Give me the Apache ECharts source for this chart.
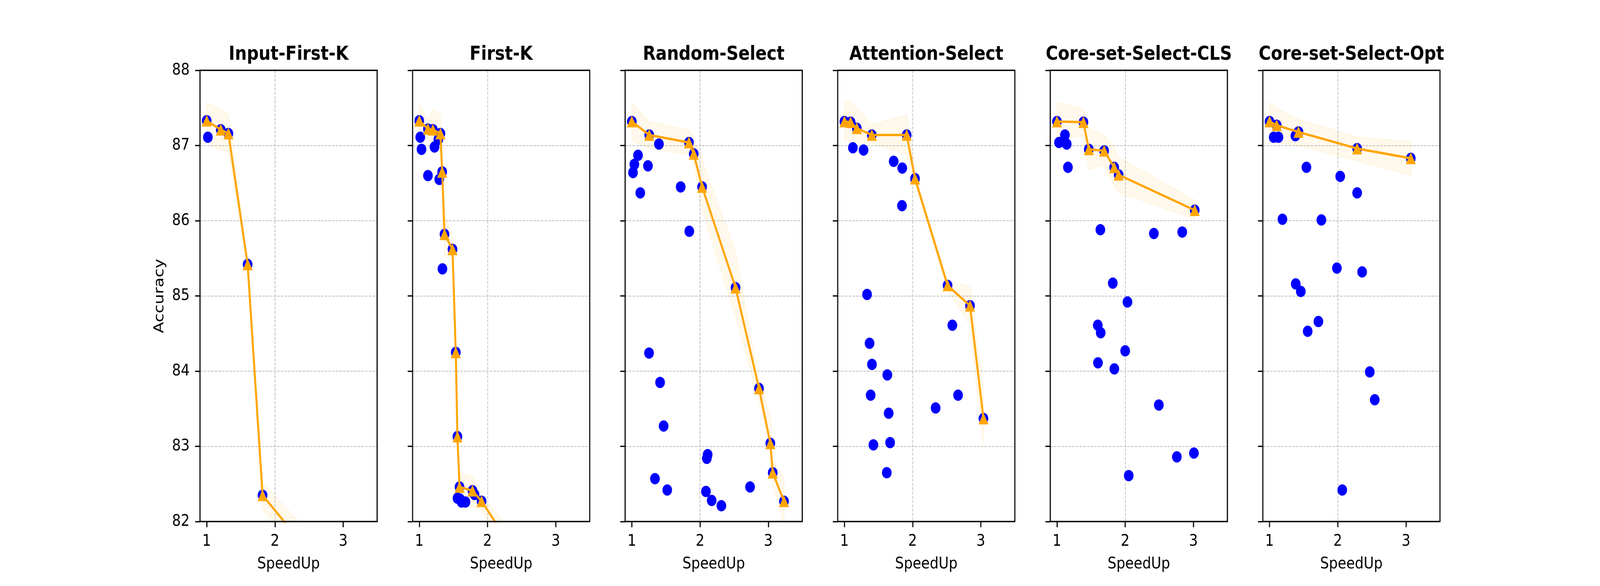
<!DOCTYPE html>
<html>
<head>
<meta charset="utf-8">
<script src="https://cdn.jsdelivr.net/npm/echarts@6/dist/echarts.min.js"></script>
<style>
  html, body { margin: 0; padding: 0; background: #fff; overflow: hidden; }
  #main { width: 4800px; height: 1500px; transform-origin: 0 0; }
</style>
</head>
<body>
<div id="main"></div>
<script>
// panel titles
var titles = ['Input-First-K', 'First-K', 'Random-Select', 'Attention-Select', 'Core-set-Select-CLS', 'Core-set-Select-Opt'];
var xTicks = [1, 2, 3];

// Input-First-K
var frontIFK = [[1.0, 87.33], [1.206, 87.21], [1.318, 87.16], [1.60, 85.42], [1.819, 82.35], [2.45, 81.65]];
var bandIFK = [[87.04, 87.57], [86.94, 87.47], [86.92, 87.41], [85.38, 85.46], [82.17, 82.51], [81.40, 81.90]];
var otherIFK = [[1.017, 87.11]];

// First-K
var frontFK = [[1.0, 87.33], [1.127, 87.22], [1.20, 87.21], [1.31, 87.16], [1.336, 86.65], [1.37, 85.82], [1.487, 85.62],
  [1.535, 84.25], [1.559, 83.13], [1.59, 82.46], [1.78, 82.41], [1.913, 82.27], [2.4, 81.6]];
var bandFK = [[87.08, 87.55], [87.08, 87.34], [87.05, 87.48], [87.02, 87.41], [86.55, 86.75], [85.53, 86.10], [85.50, 85.78],
  [84.20, 84.30], [83.08, 83.18], [82.30, 82.65], [82.20, 82.60], [82.15, 82.35], [81.40, 81.80]];
var otherFK = [[1.015, 87.11], [1.033, 86.95], [1.28, 87.08], [1.223, 86.98], [1.127, 86.60], [1.293, 86.55], [1.34, 85.36],
  [1.56, 82.31], [1.62, 82.26], [1.677, 82.26], [1.595, 82.30], [1.81, 82.36], [1.66, 81.97], [1.76, 81.97]];

// Random-Select
var frontRS = [[1.0, 87.32], [1.255, 87.14], [1.837, 87.04], [1.907, 86.89], [2.03, 86.45], [2.52, 85.11], [2.864, 83.77],
  [3.03, 83.04], [3.065, 82.65], [3.23, 82.27]];
var bandRS = [[87.07, 87.56], [86.96, 87.32], [86.88, 87.20], [86.76, 87.11], [86.14, 86.80], [84.73, 85.59], [83.60, 83.85],
  [82.97, 83.40], [82.50, 82.80], [81.95, 82.58]];
var otherRS = [[1.091, 86.87], [1.037, 86.75], [1.017, 86.64], [1.236, 86.73], [1.397, 87.02], [1.124, 86.37], [1.716, 86.45],
  [1.842, 85.86], [1.252, 84.24], [1.414, 83.85], [1.466, 83.27], [1.339, 82.57], [1.519, 82.42], [2.111, 82.89],
  [2.099, 82.84], [2.086, 82.40], [2.17, 82.28], [2.312, 82.21], [2.733, 82.46]];

// Attention-Select
var frontAS = [[1.0, 87.32], [1.091, 87.31], [1.182, 87.23], [1.402, 87.14], [1.913, 87.14], [2.035, 86.56], [2.512, 85.14],
  [2.841, 84.87], [3.038, 83.37]];
var bandAS = [[87.07, 87.58], [87.06, 87.59], [87.04, 87.50], [87.03, 87.27], [86.88, 87.41], [86.49, 86.64], [85.08, 85.20],
  [84.61, 85.12], [83.01, 83.71]];
var otherAS = [[1.124, 86.97], [1.281, 86.94], [1.722, 86.79], [1.848, 86.70], [1.844, 86.20], [1.332, 85.02], [2.582, 84.61],
  [1.369, 84.37], [1.404, 84.09], [1.629, 83.95], [1.385, 83.68], [2.666, 83.68], [1.649, 83.44], [2.337, 83.51],
  [1.425, 83.02], [1.67, 83.05], [1.621, 82.65], [2.512, 81.98]];

// Core-set-Select-CLS
var frontCLS = [[1.0, 87.32], [1.388, 87.31], [1.467, 86.95], [1.691, 86.93], [1.838, 86.71], [1.904, 86.61], [3.019, 86.14]];
var bandCLS = [[87.09, 87.57], [87.13, 87.49], [86.68, 87.23], [86.74, 87.13], [86.47, 86.98], [86.38, 86.84], [86.02, 86.27]];
var otherCLS = [[1.117, 87.14], [1.03, 87.04], [1.143, 87.02], [1.161, 86.71], [1.636, 85.88], [2.42, 85.83], [2.836, 85.85],
  [1.818, 85.17], [2.033, 84.92], [1.598, 84.61], [1.641, 84.51], [2.0, 84.27], [1.601, 84.11], [1.841, 84.03],
  [2.493, 83.55], [2.757, 82.86], [3.007, 82.91], [2.052, 82.61]];

// Core-set-Select-Opt
var frontOPT = [[1.0, 87.32], [1.105, 87.27], [1.424, 87.18], [2.284, 86.96], [3.07, 86.83]];
var bandOPT = [[87.05, 87.57], [87.03, 87.49], [87.00, 87.35], [86.80, 87.11], [86.60, 87.05]];
var otherOPT = [[1.061, 87.11], [1.131, 87.11], [1.379, 87.13], [1.541, 86.71], [2.036, 86.59], [2.284, 86.37], [1.189, 86.02],
  [1.76, 86.01], [1.987, 85.37], [2.357, 85.32], [1.384, 85.16], [1.458, 85.06], [1.716, 84.66], [1.559, 84.53],
  [2.469, 83.99], [2.542, 83.62], [2.066, 82.42]];

var fronts = [frontIFK, frontFK, frontRS, frontAS, frontCLS, frontOPT];
var bands = [bandIFK, bandFK, bandRS, bandAS, bandCLS, bandOPT];
var others = [otherIFK, otherFK, otherRS, otherAS, otherCLS, otherOPT];

// the figure is laid out at 4800x1500; squeeze it into the window if that is smaller
var el = document.getElementById('main');
var sx = Math.min(1, window.innerWidth / 4800), sy = Math.min(1, window.innerHeight / 1500);
el.style.transform = 'scale(' + sx + ',' + sy + ')';

var chart = echarts.init(el);

var FONT = 'DejaVu Sans';
var panelW = 531.4, gap = 106.3, left0 = 600, top0 = 180, panelH = 1155;
var grids = [], xAxes = [], yAxes = [], series = [], graphics = [];

function bandSeries(i, front, band) {
  return {
    type: 'custom', xAxisIndex: i, yAxisIndex: i, z: 1, silent: true,
    data: [front[0]],
    renderItem: function (params, api) {
      var up = front.map(function (p, k) { return api.coord([p[0], band[k][1]]); });
      var dn = front.map(function (p, k) { return api.coord([p[0], band[k][0]]); }).reverse();
      var cs = params.coordSys;
      return {
        type: 'polygon',
        shape: { points: up.concat(dn) },
        style: { fill: 'rgba(255,165,0,0.07)', stroke: 'rgba(255,165,0,0.06)', lineWidth: 4 },
        clipPath: { type: 'rect', shape: { x: cs.x, y: cs.y, width: cs.width, height: cs.height } }
      };
    }
  };
}

for (var i = 0; i < 6; i++) {
  var gl = left0 + i * (panelW + gap);
  grids.push({ left: gl, top: top0, width: panelW, height: panelH, show: true, z: 5,
    borderColor: '#000', borderWidth: 3.3, backgroundColor: 'transparent' });
  graphics.push({ type: 'text', x: gl + panelW / 2, y: 165, z: 10,
    style: { text: titles[i], fill: '#000', font: 'bold 50px "DejaVu Sans"', textAlign: 'center', textVerticalAlign: 'bottom' } });
  xAxes.push({
    type: 'value', gridIndex: i, min: 0.902, max: 3.498,
    name: 'SpeedUp', nameLocation: 'middle', nameGap: 88,
    nameTextStyle: { fontFamily: FONT, fontSize: 41.7, color: '#000' },
    axisLine: { show: false },
    axisTick: { show: true, length: 14.6, customValues: xTicks, lineStyle: { color: '#000', width: 3.3 } },
    axisLabel: { show: true, margin: 30, customValues: xTicks, fontFamily: FONT, fontSize: 41.7, color: '#000' },
    splitLine: { show: true, showMinLine: false, showMaxLine: false, lineStyle: { color: '#bdbdbd', width: 2.1, type: [7.7, 3.3] } }
  });
  yAxes.push({
    type: 'value', gridIndex: i, min: 82, max: 88, interval: 1,
    name: i === 0 ? 'Accuracy' : '', nameLocation: 'middle', nameGap: 100,
    nameTextStyle: { fontFamily: FONT, fontSize: 41.7, color: '#000' },
    axisLine: { show: false },
    axisTick: { show: true, length: 14.6, lineStyle: { color: '#000', width: 3.3 } },
    axisLabel: { show: i === 0, margin: 31, fontFamily: FONT, fontSize: 41.7, color: '#000' },
    splitLine: { show: true, showMinLine: false, showMaxLine: false, lineStyle: { color: '#bdbdbd', width: 2.1, type: [7.7, 3.3] } }
  });
  series.push(bandSeries(i, fronts[i], bands[i]));
  series.push({
    type: 'scatter', xAxisIndex: i, yAxisIndex: i, z: 2, clip: true,
    symbol: 'circle', symbolSize: 29,
    itemStyle: { color: '#0000ff', opacity: 1 },
    data: fronts[i].concat(others[i])
  });
  series.push({
    type: 'line', xAxisIndex: i, yAxisIndex: i, z: 3, clip: true,
    symbol: 'triangle', symbolSize: 30, showSymbol: true,
    itemStyle: { color: '#ffa500', opacity: 1 },
    lineStyle: { color: '#ffa500', width: 6 },
    data: fronts[i]
  });
}

chart.setOption({
  animation: false,
  backgroundColor: '#fff',
  grid: grids,
  xAxis: xAxes,
  yAxis: yAxes,
  series: series,
  graphic: graphics
});
</script>
</body>
</html>
